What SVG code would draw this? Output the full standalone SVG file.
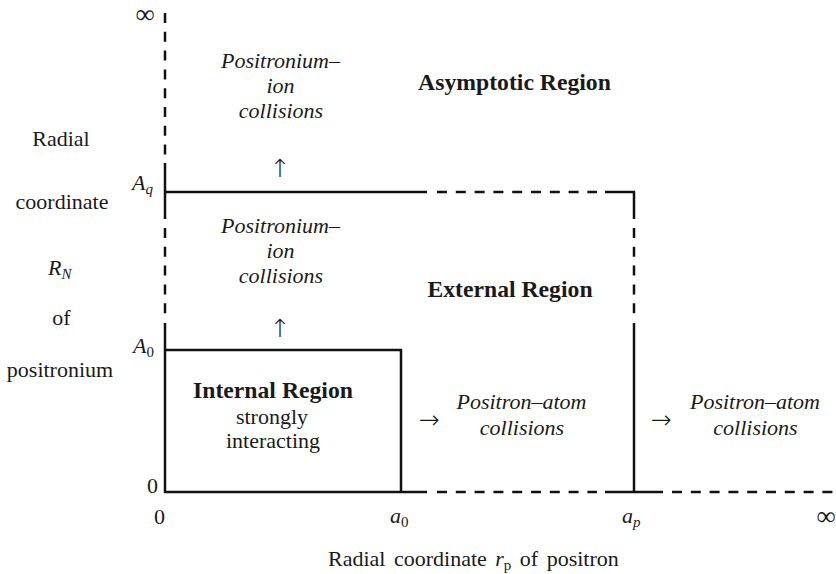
<svg xmlns="http://www.w3.org/2000/svg" width="836" height="574" viewBox="0 0 836 574" font-family="'Liberation Serif', 'DejaVu Serif', serif">
<style>
text{font-family:"Liberation Serif","DejaVu Serif",serif;font-size:22px;fill:#1a1a1a}
.mid{text-anchor:middle}
.ital{font-style:italic}
.bold{font-weight:bold;font-size:23.7px}
.subs{font-size:15px}
.ln{stroke:#111;stroke-width:2.5;fill:none}
.dash{stroke:#111;stroke-width:2.5;fill:none;stroke-dasharray:10 8.8}
text.arr{font-family:"DejaVu Sans",sans-serif;font-size:25px;font-weight:200}
.inf{font-size:27px}
</style>
<rect width="836" height="574" fill="#fff"/>
<g id="connectors">
<line class="dash" x1="165" y1="13" x2="165" y2="163"/>
<line class="ln" x1="165" y1="163" x2="165" y2="219"/>
<line class="dash" x1="165" y1="228" x2="165" y2="314"/>
<line class="ln" x1="165" y1="323" x2="165" y2="493"/>
<line class="ln" x1="164" y1="192" x2="427" y2="192"/>
<line class="dash" x1="437" y1="192" x2="597" y2="192"/>
<polyline class="ln" points="605,192 634,192 634,219"/>
<line class="dash" x1="634" y1="228" x2="634" y2="314"/>
<line class="ln" x1="634" y1="323" x2="634" y2="492"/>
<polyline class="ln" points="164,350 401,350 401,492"/>
<line class="ln" x1="164" y1="492" x2="427" y2="492"/>
<line class="dash" x1="437" y1="492" x2="597" y2="492"/>
<line class="ln" x1="605" y1="492" x2="663" y2="492"/>
<line class="dash" x1="672" y1="492" x2="836" y2="492"/>
</g>
<g id="y-axis-label">
<text class="mid" x="61" y="146">Radial</text>
<text class="mid" x="62" y="209">coordinate</text>
<text x="48" y="275" class="ital">R<tspan class="subs" dy="4">N</tspan></text>
<text class="mid" x="61.5" y="325">of</text>
<text class="mid" x="60" y="377">positronium</text>
</g>
<g id="y-ticks">
<text class="mid inf" x="145" y="23">∞</text>
<text x="132" y="190" class="ital">A<tspan class="subs" dy="4">q</tspan></text>
<text x="133" y="353" class="ital">A<tspan class="subs" dy="4" font-style="normal">0</tspan></text>
<text x="147" y="493">0</text>
</g>
<g id="x-ticks">
<text x="154" y="524">0</text>
<text x="390" y="523" class="ital">a<tspan class="subs" dy="4" font-style="normal">0</tspan></text>
<text x="622" y="523" class="ital">a<tspan class="subs" dy="4">p</tspan></text>
<text class="mid inf" x="826" y="525">∞</text>
</g>
<g id="x-axis-label">
<text x="328" y="566" word-spacing="3">Radial coordinate <tspan class="ital">r</tspan><tspan class="subs" dy="4">p</tspan><tspan dy="-4"> of positron</tspan></text>
</g>
<g id="asymptotic">
<text class="mid ital" x="280.5" y="68">Positronium–</text>
<text class="mid ital" x="280.5" y="93">ion</text>
<text class="mid ital" x="281" y="118">collisions</text>
<text class="mid arr" x="280" y="177">↑</text>
<text class="mid bold" x="514.5" y="90">Asymptotic Region</text>
</g>
<g id="external">
<text class="mid ital" x="280.5" y="233">Positronium–</text>
<text class="mid ital" x="280.5" y="258">ion</text>
<text class="mid ital" x="281" y="283">collisions</text>
<text class="mid arr" x="280" y="337">↑</text>
<text class="mid bold" x="510" y="297">External Region</text>
<text class="mid arr" x="429" y="428">→</text>
<text class="mid ital" x="521.5" y="409">Positron–atom</text>
<text class="mid ital" x="522" y="435">collisions</text>
</g>
<g id="internal">
<text class="mid bold" x="273" y="398">Internal Region</text>
<text class="mid" x="272" y="424">strongly</text>
<text class="mid" x="273" y="448">interacting</text>
</g>
<g id="outer">
<text class="mid arr" x="661" y="428">→</text>
<text class="mid ital" x="755" y="409">Positron–atom</text>
<text class="mid ital" x="755.5" y="435">collisions</text>
</g>
</svg>
